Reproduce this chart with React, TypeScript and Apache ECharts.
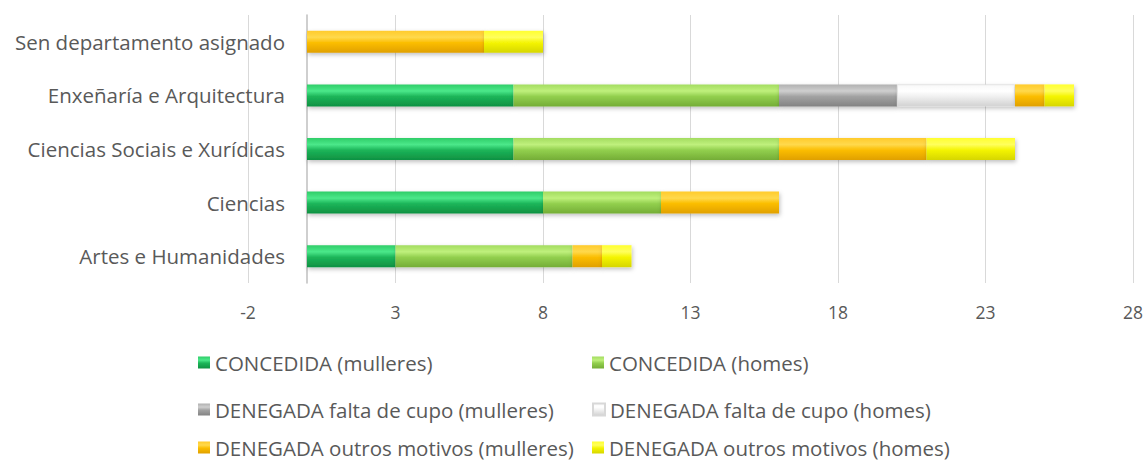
import React, { useEffect, useRef } from "react";
import * as echarts from "echarts";

const categories = [
  "Artes e Humanidades",
  "Ciencias",
  "Ciencias Sociais e Xurídicas",
  "Enxeñaría e Arquitectura",
  "Sen departamento asignado",
];

const seriesNames = [
  "CONCEDIDA (mulleres)",
  "CONCEDIDA (homes)",
  "DENEGADA falta de cupo (mulleres)",
  "DENEGADA falta de cupo (homes)",
  "DENEGADA outros motivos (mulleres)",
  "DENEGADA outros motivos (homes)",
];

const concedidaMulleres = [3, 8, 7, 7, 0];
const concedidaHomes = [6, 4, 9, 9, 0];
const cupoMulleres = [0, 0, 0, 4, 0];
const cupoHomes = [0, 0, 0, 4, 0];
const outrosMulleres = [1, 4, 5, 1, 6];
const outrosHomes = [1, 0, 3, 1, 2];

const seriesValues = [
  concedidaMulleres,
  concedidaHomes,
  cupoMulleres,
  cupoHomes,
  outrosMulleres,
  outrosHomes,
];

const xTicks = { min: -2, max: 28, interval: 5 };

const palettes: [string, string, string, string][] = [
  ["#2fcd68", "#4be88a", "#1cb559", "#0f9142"],
  ["#a3dc60", "#bff07c", "#92cf4e", "#74ad36"],
  ["#b0b0b0", "#cfcfcf", "#a2a2a2", "#838383"],
  ["#f8f8f8", "#ffffff", "#f0f0f0", "#d2d2d2"],
  ["#ffcb2c", "#ffd94c", "#fbbd00", "#e0a000"],
  ["#ffff30", "#ffff5c", "#f4f400", "#d6d600"],
];

const grad = (p: [string, string, string, string]) =>
  new echarts.graphic.LinearGradient(0, 0, 0, 1, [
    { offset: 0, color: p[0] },
    { offset: 0.3, color: p[1] },
    { offset: 0.55, color: p[2] },
    { offset: 1, color: p[3] },
  ]);

const FONT = "Open Sans";

export default function App() {
  const ref = useRef<HTMLDivElement>(null);
  useEffect(() => {
    if (!ref.current) return;
    const chart = echarts.init(ref.current, null, { renderer: "svg" });
    const legendPos = [
      [198, 352],
      [592, 352],
      [198, 399],
      [592, 399],
      [198, 437],
      [592, 437],
    ];
    chart.setOption({
      animation: false,
      backgroundColor: "#ffffff",
      textStyle: { fontFamily: FONT },
      grid: { left: 248, right: 14, top: 15, bottom: 178, containLabel: false, outerBoundsMode: "none" },
      legend: seriesNames.map((n, i) => ({
        data: [n],
        left: legendPos[i][0],
        top: legendPos[i][1],
        padding: 0,
        itemWidth: 12,
        itemHeight: 12,
        icon: "rect",
        itemGap: 0,
        textStyle: { color: "#595959", fontSize: 20.5, fontFamily: FONT, lineHeight: 20 },
      })),
      xAxis: {
        type: "value",
        min: xTicks.min,
        max: xTicks.max,
        interval: xTicks.interval,
        axisLine: { show: false },
        axisTick: { show: false },
        splitLine: { show: true, lineStyle: { color: "#d9d9d9", width: 1 } },
        axisLabel: { color: "#595959", fontSize: 17.5, margin: 20, fontFamily: FONT },
      },
      yAxis: {
        type: "category",
        data: categories,
        axisLine: { show: true, onZero: true, lineStyle: { color: "#bfbfbf", width: 1.5 } },
        axisTick: { show: false },
        axisLabel: { color: "#595959", fontSize: 20.5, margin: -37, fontFamily: FONT },
      },
      series: seriesNames.map((n, i) => ({
        name: n,
        type: "bar",
        stack: "total",
        barWidth: 22,
        data: seriesValues[i],
        itemStyle: {
          color: grad(palettes[i]),
          borderColor: i === 3 ? "#d8d8d8" : undefined,
          borderWidth: i === 3 ? 0.6 : 0,
          shadowColor: "rgba(0,0,0,0.25)",
          shadowBlur: 4,
          shadowOffsetY: 2,
          shadowOffsetX: 1,
        },
      })),
    });
    return () => chart.dispose();
  }, []);
  return <div ref={ref} style={{ width: 1147, height: 461, position: "absolute", left: 0, top: 0 }} />;
}
